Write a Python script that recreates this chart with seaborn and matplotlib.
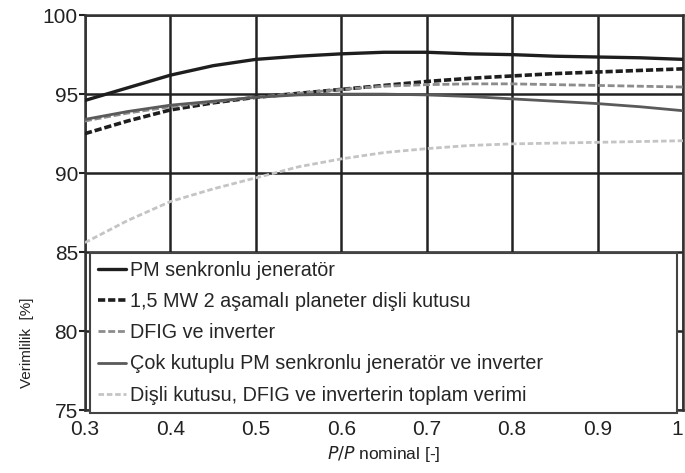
import matplotlib
matplotlib.use("Agg")
import matplotlib.pyplot as plt
import seaborn as sns
import pandas as pd

# ---- data ----
load = [0.30, 0.35, 0.40, 0.45, 0.50, 0.55, 0.60, 0.65, 0.70, 0.75, 0.80, 0.85, 0.90, 0.95, 1.00]
pm_gen = [94.6, 95.4, 96.2, 96.8, 97.2, 97.4, 97.55, 97.65, 97.65, 97.55, 97.5, 97.4, 97.35, 97.3, 97.2]
gearbox = [92.5, 93.3, 94.0, 94.45, 94.8, 95.05, 95.3, 95.55, 95.8, 96.0, 96.15, 96.3, 96.4, 96.5, 96.6]
dfig_inv = [93.3, 93.8, 94.2, 94.5, 94.8, 95.05, 95.3, 95.5, 95.6, 95.65, 95.65, 95.6, 95.55, 95.5, 95.45]
multipole_inv = [93.4, 93.9, 94.3, 94.55, 94.8, 94.95, 95.0, 95.0, 94.95, 94.85, 94.7, 94.55, 94.4, 94.2, 93.95]
total = [85.6, 87.0, 88.2, 89.0, 89.7, 90.4, 90.9, 91.3, 91.55, 91.75, 91.85, 91.9, 91.95, 92.0, 92.05]

labels = [
    "PM senkronlu jeneratör",
    "1,5 MW 2 aşamalı planeter dişli kutusu",
    "DFIG ve inverter",
    "Çok kutuplu PM senkronlu jeneratör ve inverter",
    "Dişli kutusu, DFIG ve inverterin toplam verimi",
]
series = [pm_gen, gearbox, dfig_inv, multipole_inv, total]

x_ticks = [0.3, 0.4, 0.5, 0.6, 0.7, 0.8, 0.9, 1.0]
x_ticklabels = ["0.3", "0.4", "0.5", "0.6", "0.7", "0.8", "0.9", "1"]
y_ticks = [75, 80, 85, 90, 95, 100]

# ---- styles ----
colors = ["#1e1e1e", "#1e1e1e", "#8c8c8c", "#5a5a5a", "#c4c4c4"]
styles = ["-", (0, (2.0, 0.8)), (0, (2.5, 1.0)), "-", (0, (2.0, 1.0))]
widths = [2.4, 2.6, 2.0, 2.0, 2.0]

sns.set_theme(style="white")
plt.rcParams["font.family"] = ["Liberation Sans", "DejaVu Sans"]

fig = plt.figure(figsize=(6.85, 4.73), dpi=100)
ax = fig.add_axes([0.124, 0.133, 0.873, 0.835])

handles = []
for vals, lab, c, ls, lw in zip(series, labels, colors, styles, widths):
    df = pd.DataFrame({"x": load, "y": vals})
    sns.lineplot(data=df, x="x", y="y", ax=ax, color=c, linestyle=ls, linewidth=lw,
                 label=lab, legend=False, zorder=3)
    handles.append(ax.get_lines()[-1])

ax.set_xlim(0.3, 1.0)
ax.set_ylim(75, 100)
ax.set_xticks(x_ticks)
ax.set_xticklabels(x_ticklabels)
ax.set_yticks(y_ticks)
ax.grid(True, color="#222222", linewidth=1.8, zorder=1)
ax.set_axisbelow(True)
for s in ax.spines.values():
    s.set_color("#333333")
    s.set_linewidth(1.8)
ax.tick_params(axis="both", labelsize=15, colors="#222222", pad=1)
ax.tick_params(axis="y", left=True, length=4, width=1.5, direction="out")
ax.tick_params(axis="x", bottom=False)
ax.get_xticklabels()[-1].set_horizontalalignment("right")

ax.set_xlabel(r"$P/P$ nominal [-]", fontsize=12.5, color="#222222", labelpad=4)
ax.set_ylabel("Verimlilik  [%]", fontsize=11, color="#222222")
ax.yaxis.set_label_coords(-0.085, 0.17)

leg = ax.legend(handles=handles, labels=labels, loc="upper left",
                bbox_to_anchor=(0.008, 0.0, 0.982, 0.398), mode="expand",
                borderaxespad=0, fontsize=14.2, handlelength=1.45, handletextpad=0.2,
                labelspacing=0.62, borderpad=0.4, frameon=True, fancybox=False,
                framealpha=1, facecolor="white", edgecolor="#444444")
leg.get_frame().set_linewidth(1.5)
leg.set_zorder(5)

fig.savefig("out.png", dpi=100)
